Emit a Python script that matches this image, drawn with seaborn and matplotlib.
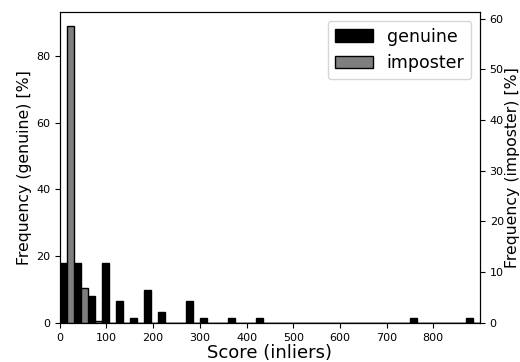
import numpy as np
import pandas as pd
import matplotlib
matplotlib.use("Agg")
import matplotlib.pyplot as plt
import seaborn as sns
from matplotlib.patches import Patch

# histogram bins of width 30 on 0..900, genuine drawn in left half, imposter in right half
bin_width = 30
genuine_bins = [0, 30, 60, 90, 120, 150, 180, 210, 270, 300, 360, 420, 750, 870]
genuine_pct = [18.0, 18.0, 8.2, 18.0, 6.6, 1.6, 9.8, 3.3, 6.6, 1.6, 1.6, 1.6, 1.6, 1.6]
imposter_bins = [0, 30, 60]
imposter_pct = [58.5, 6.8, 0.3]

edges = list(np.arange(0, 900 + 1, bin_width / 2))

gen = pd.DataFrame({"score": [b + bin_width / 4 for b in genuine_bins], "pct": genuine_pct})
imp = pd.DataFrame({"score": [b + 3 * bin_width / 4 for b in imposter_bins], "pct": imposter_pct})

fig, ax1 = plt.subplots(figsize=(5.2, 3.62), dpi=100)
ax2 = ax1.twinx()

sns.histplot(data=gen, x="score", weights="pct", bins=edges, ax=ax1,
             color="black", edgecolor="black", linewidth=1, alpha=1)
sns.histplot(data=imp, x="score", weights="pct", bins=edges, ax=ax2,
             color="#7f7f7f", edgecolor="black", linewidth=1, alpha=1)

ax1.set_xlim(0, 900)
ax1.set_ylim(0, 93.2)
ax2.set_ylim(0, 61.3)
ax1.set_xticks([0, 100, 200, 300, 400, 500, 600, 700, 800])
ax1.set_xlabel("Score (inliers)", fontsize=13, labelpad=1)
ax1.set_ylabel("Frequency (genuine) [%]", fontsize=11.3, labelpad=3)
ax2.set_ylabel("Frequency (imposter) [%]", fontsize=11.3, labelpad=1)
ax1.tick_params(labelsize=8)
ax2.tick_params(labelsize=8)

handles = [Patch(facecolor="black", edgecolor="black", label="genuine"),
           Patch(facecolor="#7f7f7f", edgecolor="black", label="imposter")]
ax2.legend(handles=handles, loc="upper right", fontsize=12.5, handlelength=2.2)

fig.subplots_adjust(left=0.115, right=0.923, top=0.967, bottom=0.108)
fig.savefig("out.png", dpi=100)
